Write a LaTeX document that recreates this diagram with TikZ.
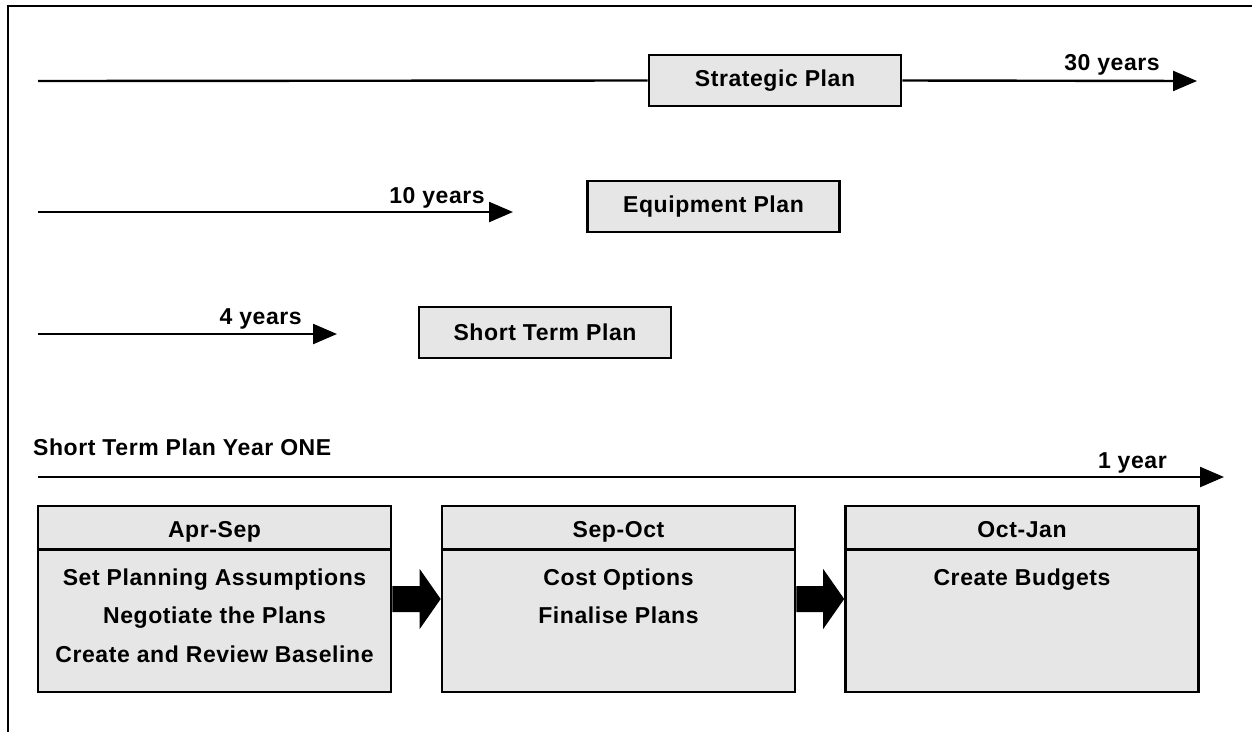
\documentclass[tikz,border=0pt]{standalone}
\usepackage{fontspec}
\setmainfont{Liberation Sans}[LetterSpace=2.5]
\usetikzlibrary{calc,arrows.meta}
\definecolor{boxgray}{HTML}{E6E6E6}
\tikzset{
  plainbox/.style={draw=black, fill=boxgray, line width=2.6pt, minimum width=252pt, minimum height=51pt, inner sep=0pt, font=\fontsize{23}{27}\selectfont\bfseries},
  phasebox/.style={draw=black, fill=boxgray, line width=2.6pt, minimum width=353pt, minimum height=186pt, inner sep=0pt},
  tlline/.style={line width=2.4pt, -{Triangle[length=24pt,width=20pt]}},
  plainline/.style={line width=2.4pt},
  lbl/.style={inner sep=0pt, font=\fontsize{23}{27}\selectfont\bfseries},
  frameline/.style={line width=2.8pt}
}
\begin{document}
\begin{tikzpicture}[x=1pt,y=-1pt]
\useasboundingbox (0,0) rectangle (1252,732);
% frame
\coordinate (fbl) at (8,732);
\coordinate (ftl) at (8,6);
\coordinate (ftr) at (1252,6);
\draw[frameline] (fbl) -- (ftl) -- (ftr);

% Strategic plan
\node[plainbox] (sp) at (775,80.5) {Strategic Plan};
\coordinate (s0) at (38,81);
\coordinate (s1) at (1197,81);
\draw[plainline] (s0) -- (sp.west);
\draw[tlline] (sp.east) -- (s1);
\node[lbl, anchor=base east] (l30) at (1160,70) {30 years};

% Equipment plan
\node[plainbox] (ep) at (713.5,206.5) {Equipment Plan};
\coordinate (e0) at (38,212);
\coordinate (e1) at (513,212);
\draw[tlline] (e0) -- (e1);
\node[lbl, anchor=base east] (l10) at (485,203) {10 years};

% Short term plan
\node[plainbox] (stp) at (545,332.5) {Short Term Plan};
\coordinate (t0) at (38,334);
\coordinate (t1) at (337,334);
\draw[tlline] (t0) -- (t1);
\node[lbl, anchor=base east] (l4) at (302,324) {4 years};

% Year one
\node[lbl, anchor=base west] (yone) at (33,455) {Short Term Plan Year ONE};
\coordinate (y0) at (38,477);
\coordinate (y1) at (1224,477);
\draw[tlline] (y0) -- (y1);
\node[lbl, anchor=base east] (l1) at (1167,468) {1 year};

% phase boxes
\node[phasebox] (b1) at (214.5,599) {};
\node[phasebox] (b2) at (618.5,599) {};
\node[phasebox] (b3) at (1022,599) {};
\foreach \b in {b1,b2,b3}{
  \draw[line width=2.6pt] ($(\b.north west)+(0,45)$) -- ($(\b.north east)+(0,45)$);
}
\node[lbl, anchor=base] (h1) at ($(b1.north)+(0,32.5)$) {Apr-Sep};
\node[lbl, anchor=base] (h2) at ($(b2.north)+(0,32.5)$) {Sep-Oct};
\node[lbl, anchor=base] (h3) at ($(b3.north)+(0,32.5)$) {Oct-Jan};
\node[lbl, anchor=base] (t11) at ($(b1.north)+(0,80.5)$) {Set Planning Assumptions};
\node[lbl, anchor=base] (t12) at ($(b1.north)+(0,119)$) {Negotiate the Plans};
\node[lbl, anchor=base] (t13) at ($(b1.north)+(0,157.5)$) {Create and Review Baseline};
\node[lbl, anchor=base] (t21) at ($(b2.north)+(0,80.5)$) {Cost Options};
\node[lbl, anchor=base] (t22) at ($(b2.north)+(0,119)$) {Finalise Plans};
\node[lbl, anchor=base] (t31) at ($(b3.north)+(0,80.5)$) {Create Budgets};

% block arrows
\foreach \a/\c in {b1/b2,b2/b3}{
  \fill[black] ($(\a.east)+(0,-13)$) -- ($(\c.west)+(-21,-13)$) -- ($(\c.west)+(-21,-30)$) -- (\c.west)
    -- ($(\c.west)+(-21,30)$) -- ($(\c.west)+(-21,13)$) -- ($(\a.east)+(0,13)$) -- cycle;
}
\end{tikzpicture}
\end{document}
